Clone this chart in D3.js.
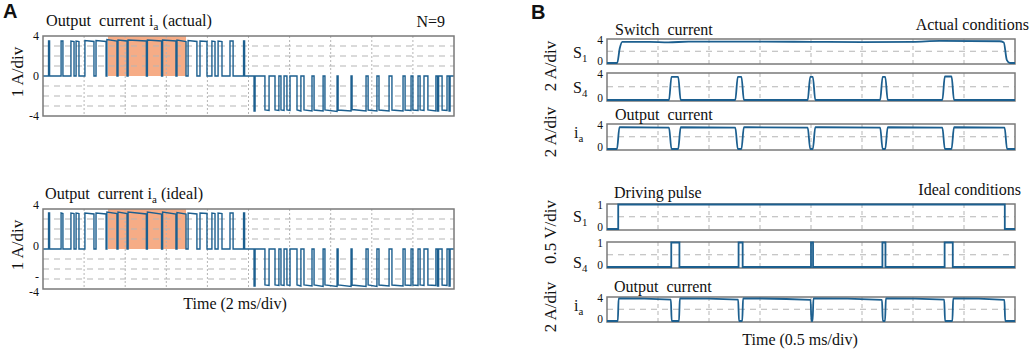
<!DOCTYPE html>
<html>
<head>
<meta charset="utf-8">
<script src="https://cdn.jsdelivr.net/npm/d3@7"></script>
<style>
body { margin: 0; background: #fff; }
svg text { font-family: "Liberation Serif", "Times New Roman", serif; fill: #111; white-space: pre; }
</style>
</head>
<body>
<svg id="chart" width="1031" height="350"></svg>
<script>
// ---- Panel A data: pulses as [start ms, end ms, level at start, level at end]
const actualPos = [
    [0.27, 0.32, 3.5, 3.5], [0.88, 0.97, 3.5, 3.5], [1.36, 1.51, 3.5, 3.45],
    [1.61, 1.75, 3.5, 3.45], [2.04, 2.48, 3.55, 3.45], [2.58, 3.07, 3.55, 3.45],
    [3.11, 3.60, 3.65, 3.5], [3.65, 4.09, 3.6, 3.5], [4.14, 5.03, 3.6, 3.5],
    [5.08, 5.77, 3.6, 3.5], [5.82, 6.47, 3.6, 3.5], [6.52, 6.96, 3.6, 3.45],
    [7.06, 7.49, 3.55, 3.45], [7.64, 7.98, 3.5, 3.45], [8.22, 8.37, 3.5, 3.45],
    [8.52, 8.71, 3.5, 3.45], [9.10, 9.25, 3.5, 3.5], [9.76, 9.81, 3.5, 3.5]
];
const actualNeg = [
    [10.27, 10.32, -3.5, -3.5], [10.80, 11.00, -3.4, -3.45], [11.29, 11.48, -3.4, -3.45],
    [11.58, 11.73, -3.4, -3.45], [11.87, 12.02, -3.4, -3.45], [12.36, 12.55, -3.4, -3.5],
    [12.70, 13.09, -3.4, -3.5], [13.19, 13.63, -3.4, -3.5], [13.72, 14.31, -3.4, -3.55],
    [14.36, 14.99, -3.4, -3.5], [15.04, 15.72, -3.35, -3.5], [15.82, 16.25, -3.4, -3.5],
    [16.35, 16.84, -3.4, -3.5], [16.98, 17.52, -3.4, -3.5], [17.62, 17.91, -3.4, -3.45],
    [18.00, 18.25, -3.4, -3.45], [18.35, 18.54, -3.4, -3.45], [18.73, 19.12, -3.4, -3.5],
    [19.20, 19.25, -3.5, -3.5], [19.42, 19.66, -3.4, -3.45], [19.76, 19.81, -3.5, -3.5]
];
const idealPos = [
    [0.27, 0.32, 3.6, 3.6], [0.88, 0.97, 3.6, 3.55], [1.36, 1.51, 3.6, 3.55],
    [1.61, 1.75, 3.6, 3.55], [2.04, 2.48, 3.6, 3.5], [2.58, 3.07, 3.6, 3.5],
    [3.11, 3.60, 3.7, 3.55], [3.65, 4.09, 3.7, 3.55], [4.14, 5.03, 3.7, 3.5],
    [5.08, 5.77, 3.7, 3.5], [5.82, 6.47, 3.7, 3.5], [6.52, 6.96, 3.65, 3.5],
    [7.06, 7.49, 3.6, 3.5], [7.64, 7.98, 3.6, 3.55], [8.22, 8.37, 3.6, 3.55],
    [8.52, 8.71, 3.6, 3.55], [9.10, 9.25, 3.6, 3.6], [9.76, 9.81, 3.6, 3.6]
];
const idealNeg = [
    [10.27, 10.32, -3.7, -3.7], [10.80, 11.00, -3.6, -3.65], [11.29, 11.48, -3.6, -3.65],
    [11.58, 11.73, -3.6, -3.65], [11.87, 12.02, -3.6, -3.65], [12.36, 12.55, -3.6, -3.7],
    [12.70, 13.09, -3.6, -3.7], [13.19, 13.63, -3.6, -3.75], [13.72, 14.31, -3.6, -3.75],
    [14.36, 14.99, -3.6, -3.75], [15.04, 15.72, -3.6, -3.75], [15.82, 16.25, -3.6, -3.75],
    [16.35, 16.84, -3.6, -3.7], [16.98, 17.52, -3.6, -3.7], [17.62, 17.91, -3.6, -3.65],
    [18.00, 18.25, -3.6, -3.65], [18.35, 18.54, -3.6, -3.65], [18.73, 19.12, -3.6, -3.65],
    [19.20, 19.25, -3.7, -3.7], [19.42, 19.66, -3.6, -3.65], [19.76, 19.81, -3.7, -3.7]
];
const shadeMs = [3.16, 6.96];
const aGridMs = [2, 4, 6, 8, 10, 12, 14, 16, 18];
const aGridAmp = [-3, -2, -1, 1, 2, 3];
const aTicksActual = ["4", "0", "-4"];
const aTicksIdeal = ["4", "0", "-", "-4"];
const aTickValsActual = [4, 0, -4];
const aTickValsIdeal = [4, 0, -3, -4];

// ---- Panel B data (time in ms)
const actualS1 = [
    [0, 0], [0.10, 0], [0.125, 2.5], [0.15, 3.6], [0.42, 3.6], [0.6, 3.5], [0.8, 3.65],
    [1.5, 3.65], [2.0, 3.6], [2.5, 3.55], [3.0, 3.6], [3.26, 3.75], [3.85, 3.7],
    [3.89, 3.5], [3.92, 0.5], [3.95, 0], [4, 0]
];
const actualS4 = [[0.62, 0.71, 3.5, 3.5], [1.27, 1.33, 3.5, 3.5], [1.98, 2.03, 3.5, 3.5], [2.69, 2.74, 3.5, 3.5], [3.30, 3.39, 3.55, 3.55]];
const actualIa = [[0.11, 0.62, 3.55, 3.5], [0.71, 1.27, 3.55, 3.5], [1.33, 1.98, 3.55, 3.5], [2.03, 2.69, 3.55, 3.5], [2.74, 3.30, 3.55, 3.5], [3.39, 3.91, 3.55, 3.5]];
const idealS1 = [[0.11, 3.90, 1, 1]];
const idealS4 = [[0.63, 0.71, 1, 1], [1.29, 1.33, 1, 1], [2.0, 2.02, 1, 1], [2.70, 2.73, 1, 1], [3.31, 3.39, 1, 1]];
const idealIa = [[0.11, 0.63, 3.85, 3.65], [0.71, 1.29, 3.85, 3.65], [1.33, 2.0, 3.85, 3.6], [2.02, 2.70, 3.85, 3.6], [2.73, 3.31, 3.85, 3.65], [3.39, 3.90, 3.85, 3.6]];
const bGridMs = [0.5, 1, 1.5, 2, 2.5, 3, 3.5];

const svg = d3.select("#chart");
const traceColor = "#1c5f8f";
const frameColor = "#7a7a7a";
const gridColor = "#b5b5b5";

function segPoints(segs, t0, t1, ramp) {
    const pts = [[t0, 0]];
    segs.forEach(([a, b, va, vb]) => {
        pts.push([a - ramp, 0], [a + ramp, va], [b - ramp, vb], [b + ramp, 0]);
    });
    pts.push([t1, 0]);
    return pts;
}

// text with optional subscripts: parts are strings or {sub: "a"}
function label(g, x, y, parts, opts = {}) {
    const size = opts.size || 16;
    const t = g.append("text")
        .attr("x", x).attr("y", y)
        .attr("font-size", size)
        .attr("text-anchor", opts.anchor || "start");
    if (opts.rotate) t.attr("transform", `rotate(-90,${x},${y})`);
    if (opts.width) t.attr("textLength", opts.width).attr("lengthAdjust", "spacingAndGlyphs");
    let shift = 0;
    parts.forEach(p => {
        if (typeof p === "string") {
            t.append("tspan").attr("dy", -shift).text(p);
            shift = 0;
        } else {
            t.append("tspan").attr("font-size", size * 0.68).attr("dy", 4).text(p.sub);
            shift = 4;
        }
    });
    return t;
}

// ---- Panel A
function panelA(top, bottom, pos, neg, tickTxt, tickVals, tickShift) {
    const x = d3.scaleLinear().domain([0, 20]).range([43, 454]);
    const y = d3.scaleLinear().domain([-4, 4]).range([bottom, top]);
    const g = svg.append("g");

    g.append("rect")
        .attr("x", x(shadeMs[0])).attr("y", y(4))
        .attr("width", x(shadeMs[1]) - x(shadeMs[0])).attr("height", y(0) - y(4))
        .attr("fill", "#f6ac86");

    g.selectAll(".vg").data(aGridMs).enter().append("line")
        .attr("x1", d => x(d)).attr("x2", d => x(d)).attr("y1", top).attr("y2", bottom)
        .attr("stroke", gridColor).attr("stroke-width", 1).attr("stroke-dasharray", "2,2");
    g.selectAll(".hg").data(aGridAmp).enter().append("line")
        .attr("x1", x(0)).attr("x2", x(20)).attr("y1", d => y(d)).attr("y2", d => y(d))
        .attr("stroke", gridColor).attr("stroke-width", 1).attr("stroke-dasharray", "6,5");

    const line = d3.line().x(d => x(d[0])).y(d => y(d[1]));
    g.append("path")
        .attr("d", line(segPoints(pos.concat(neg), 0, 20, 0)))
        .attr("fill", "none").attr("stroke", traceColor).attr("stroke-width", 1.4);

    g.append("rect")
        .attr("x", x(0)).attr("y", top).attr("width", x(20) - x(0)).attr("height", bottom - top)
        .attr("fill", "none").attr("stroke", frameColor).attr("stroke-width", 1.5);

    tickVals.forEach((v, i) => {
        g.append("text").attr("x", 39).attr("y", y(v) + 4 + tickShift[i]).attr("text-anchor", "end")
            .attr("font-size", 12).text(tickTxt[i]);
    });
    label(g, 23, (top + bottom) / 2 - 4, ["1 A/div"], { rotate: true, anchor: "middle", size: 17 });
    return g;
}

const gA1 = panelA(36, 116, actualPos, actualNeg, aTicksActual, aTickValsActual, [0, 0, 0]);
label(gA1, 46, 26, ["Output  current i", { sub: "a" }, " (actual)"], { width: 166 });
label(gA1, 445, 27, ["N=9"], { anchor: "end" });
const gA2 = panelA(209, 289, idealPos, idealNeg, aTicksIdeal, aTickValsIdeal, [-4, -3, -2, 3]);
label(gA2, 45, 199, ["Output  current i", { sub: "a" }, " (ideal)"], { width: 158 });
label(svg, 235, 309, ["Time (2 ms/div)"], { anchor: "middle" });

svg.append("text").attr("x", 3).attr("y", 18).attr("font-size", 20).attr("font-weight", "bold")
    .style("font-family", "'Liberation Sans', Arial, sans-serif").text("A");
svg.append("text").attr("x", 531).attr("y", 19).attr("font-size", 20).attr("font-weight", "bold")
    .style("font-family", "'Liberation Sans', Arial, sans-serif").text("B");

// ---- Panel B
const xB = d3.scaleLinear().domain([0, 4]).range([607, 1015]);

function scope(top, bottom, yMax, data, isPoints, ramp, tickTxt) {
    const y = d3.scaleLinear().domain([0, yMax]).range([bottom - 1, top + 0.5]);
    const g = svg.append("g");
    g.selectAll(".vg").data(bGridMs).enter().append("line")
        .attr("x1", d => xB(d)).attr("x2", d => xB(d)).attr("y1", top).attr("y2", bottom)
        .attr("stroke", gridColor).attr("stroke-dasharray", "4,3");
    g.append("line")
        .attr("x1", xB(0)).attr("x2", xB(4)).attr("y1", y(yMax / 2)).attr("y2", y(yMax / 2))
        .attr("stroke", gridColor).attr("stroke-dasharray", "6,5");
    const pts = isPoints ? data : segPoints(data, 0, 4, ramp);
    const line = d3.line().x(d => xB(d[0])).y(d => y(d[1]));
    if (ramp > 0 || isPoints) line.curve(d3.curveMonotoneX);
    g.append("rect")
        .attr("x", xB(0)).attr("y", top).attr("width", xB(4) - xB(0)).attr("height", bottom - top)
        .attr("fill", "none").attr("stroke", frameColor).attr("stroke-width", 1.5);
    g.append("path").attr("d", line(pts))
        .attr("fill", "none").attr("stroke", traceColor).attr("stroke-width", 1.8);
    g.append("text").attr("x", 603).attr("y", top + 5).attr("text-anchor", "end").attr("font-size", 11.5).text(tickTxt[0]);
    g.append("text").attr("x", 603).attr("y", bottom + 1).attr("text-anchor", "end").attr("font-size", 11.5).text(tickTxt[1]);
    return g;
}

scope(39, 64, 4, actualS1, true, 0, ["4", "0"]);
scope(73, 101, 4, actualS4, false, 0.012, ["4", "0"]);
scope(124, 150, 4, actualIa, false, 0.012, ["4", "0"]);
scope(204, 230, 1, idealS1, false, 0, ["1", "0"]);
scope(242, 268, 1, idealS4, false, 0, ["1", "0"]);
scope(297, 322, 4, idealIa, false, 0.004, ["4", "0"]);

label(svg, 615, 35, ["Switch  current"]);
label(svg, 1029, 30, ["Actual conditions"], { anchor: "end" });
label(svg, 615, 120, ["Output  current"]);
label(svg, 614, 198, ["Driving pulse"]);
label(svg, 1021, 195, ["Ideal conditions"], { anchor: "end" });
label(svg, 614, 292, ["Output  current"]);
label(svg, 800, 345, ["Time (0.5 ms/div)"], { anchor: "middle" });

label(svg, 573, 58, ["S", { sub: "1" }]);
label(svg, 573, 93, ["S", { sub: "4" }]);
label(svg, 574, 138, ["i", { sub: "a" }]);
label(svg, 573, 222, ["S", { sub: "1" }]);
label(svg, 573, 268, ["S", { sub: "4" }]);
label(svg, 574, 311, ["i", { sub: "a" }]);

label(svg, 556, 66, ["2 A/div"], { rotate: true, anchor: "middle", size: 17 });
label(svg, 556, 132, ["2 A/div"], { rotate: true, anchor: "middle", size: 17 });
label(svg, 556, 232, ["0.5 V/div"], { rotate: true, anchor: "middle", size: 17 });
label(svg, 556, 307, ["2 A/div"], { rotate: true, anchor: "middle", size: 17 });
</script>
</body>
</html>
